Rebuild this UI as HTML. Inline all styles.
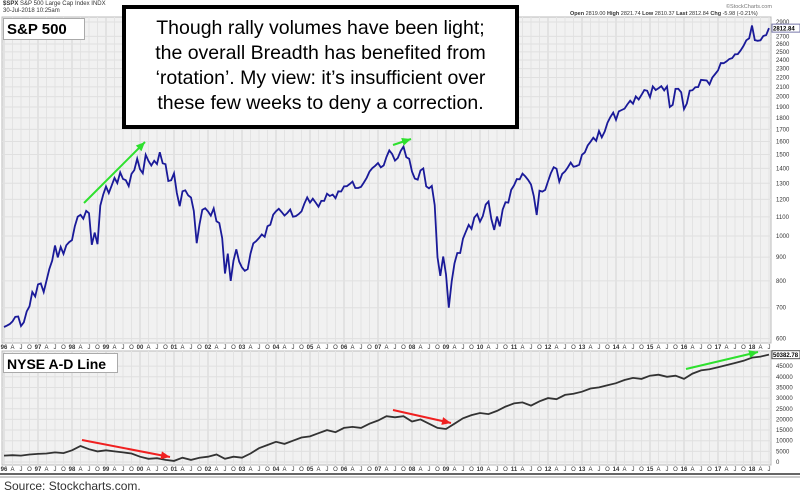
<!DOCTYPE html>
<html><head><meta charset="utf-8"><style>
body{margin:0;background:#fff;width:800px;height:492px;overflow:hidden;font-family:"Liberation Sans",sans-serif}
svg{position:absolute;left:0;top:0}
</style></head><body>
<svg id="c" width="800" height="492"></svg>
<script>
const years=[1996,1997,1998,1999,2000,2001,2002,2003,2004,2005,2006,2007,2008,2009,2010,2011,2012,2013,2014,2015,2016,2017,2018];
const spx=[636,640,645,654,669,670,639,651,687,705,757,740,
786,790,757,801,848,885,954,899,947,915,955,970,
980,1049,1101,1111,1090,1133,1120,957,1017,960,1163,1229,
1279,1238,1286,1335,1301,1372,1328,1320,1282,1362,1388,1469,
1394,1366,1498,1452,1420,1454,1430,1517,1436,1429,1315,1320,
1366,1240,1160,1249,1255,1224,1211,1133,965,1059,1139,1148,
1130,1106,1147,1076,1067,989,830,916,800,885,936,880,
855,841,848,916,964,975,990,1008,996,1050,1058,1112,
1131,1145,1126,1107,1121,1141,1101,1104,1115,1130,1174,1212,
1181,1204,1181,1157,1191,1191,1234,1220,1229,1207,1249,1248,
1280,1281,1295,1311,1270,1270,1277,1304,1336,1378,1401,1418,
1438,1407,1421,1482,1531,1503,1455,1474,1527,1560,1481,1468,
1378,1331,1323,1386,1400,1280,1267,1283,1166,900,820,903,
826,700,798,873,919,919,987,1021,1057,1036,1096,1115,
1074,1104,1169,1187,1089,1031,1102,1049,1141,1183,1181,1258,
1286,1327,1326,1364,1345,1321,1292,1219,1110,1253,1247,1258,
1312,1366,1408,1398,1310,1362,1379,1407,1441,1412,1416,1426,
1498,1515,1569,1598,1631,1606,1686,1633,1682,1757,1806,1848,
1783,1859,1872,1884,1924,1960,1931,2003,1972,2018,2068,2059,
1995,2105,2068,2086,2107,2063,2104,1900,1920,2079,2080,2044,
1880,1932,2060,2065,2097,2099,2174,2171,2168,2126,2199,2239,
2279,2364,2363,2384,2412,2423,2470,2472,2519,2575,2648,2674,
2850,2650,2641,2648,2705,2718,2813];
const adLine=[3,3.2,3,3.5, 3.8,4,4.5,4.2, 5.5,7.5,6,5, 5.5,5,4.5,4, 2.5,1.5,1.8,1, 0.5,2,1,2,
2.5,3.5,1.5,2.5, 2,4,6.5,8, 9.5,8.5,10,11.5, 12,13.5,15,14, 16,16.5,16,18, 19.5,21.5,21,21.5,
19,20,18,16, 15.5,18,20.5,22, 23,22.5,24,26, 27.5,28,26.5,28.5, 30,29.5,31.5,32, 33,34.5,35,36,
37,38.5,39.5,39, 40.5,41,40,40.5, 39,41.5,43,43.5, 44.5,45.5,46.5,47.5, 49,49.5,50.4];
const spxTicks=[600,700,800,900,1000,1100,1200,1300,1400,1500,1600,1700,1800,1900,2000,2100,2200,2300,2400,2500,2600,2700,2900];
const adTicks=[0,5000,10000,15000,20000,25000,30000,35000,40000,45000];
const NS="http://www.w3.org/2000/svg",svg=document.getElementById('c');
function mk(t,a,p){const e=document.createElementNS(NS,t);for(const k in a)e.setAttribute(k,a[k]);(p||svg).appendChild(e);return e;}
const X0=4,XR=771;
const xs=t=>X0+(t-1996)*34.0;
const ys=v=>236-201*Math.log(v/1000);
const ya=v=>462-v*0.00213;
let r=mk('rect',{x:2,y:17,width:XR-2,height:326,fill:'#f1f1f1',stroke:'#bbb'});

r=mk('rect',{x:2,y:351,width:XR-2,height:114,fill:'#f1f1f1',stroke:'#bbb'});

const ml=['A','J','O'];
for(let y=1996;y<=2018;y++){
 for(let q=0;q<4;q++){
  const x=xs(y+q/4);if(x>XR)continue;
  mk('line',{x1:x,x2:x,y1:17,y2:343,stroke:q?'#e3e3e3':'#d4d4d4'});
  mk('line',{x1:x,x2:x,y1:351,y2:465,stroke:q?'#e3e3e3':'#d4d4d4'});
  for(const ty of [349,471]){
   const t=mk('text',{x:x,y:ty,'font-size':6,'text-anchor':'middle',fill:'#333','font-weight':q?'normal':'bold'});
   t.textContent=q?ml[q-1]:String(y).slice(2);
   
  }
 }
}
spxTicks.forEach(v=>{const y=ys(v);mk('line',{x1:2,x2:XR,y1:y,y2:y,stroke:'#e0e0e0'});
 const t=mk('text',{x:776,y:y+2,'font-size':6,fill:'#333'});t.textContent=v;
 });
adTicks.forEach(v=>{const y=ya(v);mk('line',{x1:2,x2:XR,y1:y,y2:y,stroke:'#e0e0e0'});
 const t=mk('text',{x:776,y:y+2,'font-size':6,fill:'#333'});t.textContent=v;
 });
let d=spx.map((v,i)=>(i?'L':'M')+xs(1996+i/12).toFixed(1)+','+ys(v).toFixed(1)).join('');
let p=mk('path',{d:d,fill:'none',stroke:'#1a1a99','stroke-width':1.8});

d=adLine.map((v,i)=>(i?'L':'M')+xs(1996+i/4).toFixed(1)+','+ya(v*1000).toFixed(1)).join('');
p=mk('path',{d:d,fill:'none',stroke:'#333','stroke-width':1.8});

let g=mk('rect',{x:772,y:ys(2812.84)-4,width:28,height:8,fill:'#fff',stroke:'#77a'});

let t=mk('text',{x:773,y:ys(2812.84)+2.5,'font-size':6,'font-weight':'bold'});t.textContent='2812.84';

g=mk('rect',{x:772,y:ya(50382)-4,width:28,height:8,fill:'#fff',stroke:'#555'});

t=mk('text',{x:773,y:ya(50382)+2.5,'font-size':6,'font-weight':'bold'});t.textContent='50382.78';

function arrow(x1,y1,x2,y2,c,name){
 const gg=mk('g',{});
 mk('line',{x1,y1,x2,y2,stroke:c,'stroke-width':2},gg);
 const a=Math.atan2(y2-y1,x2-x1),L=9,W=4;
 const bx=x2-L*Math.cos(a),by=y2-L*Math.sin(a);
 mk('polygon',{points:`${x2},${y2} ${bx-W*Math.sin(a)},${by+W*Math.cos(a)} ${bx+W*Math.sin(a)},${by-W*Math.cos(a)}`,fill:c},gg);
}
arrow(84,203,145,142,'#2ee02e','green-arrow-1');
arrow(393,145,411,139,'#2ee02e','green-arrow-2');
arrow(82,440,170,457,'#f02020','red-arrow-1');
arrow(393,410,451,423,'#f02020','red-arrow-2');
arrow(686,369,758,352,'#2ee02e','green-arrow-3');
mk('line',{x1:0,x2:800,y1:474,y2:474,stroke:'#333','stroke-width':1.5});
mk('line',{x1:0,x2:800,y1:477,y2:477,stroke:'#999','stroke-width':1});
</script>
<div style="position:absolute;left:3px;top:1px;font-size:6px;line-height:7px;color:#333"><b>$SPX</b> S&amp;P 500 Large Cap Index INDX<br>30-Jul-2018 10:25am</div>
<div style="position:absolute;left:570px;top:11px;font-size:5.5px;color:#333;white-space:nowrap"><b>Open</b> 2819.00 <b>High</b> 2821.74 <b>Low</b> 2810.37 <b>Last</b> 2812.84 <b>Chg</b> -5.98 (-0.21%)</div>
<div style="position:absolute;left:726px;top:4px;font-size:5.5px;color:#777">©StockCharts.com</div>
<div style="position:absolute;left:3px;top:18px;width:82px;height:22px;background:#fff;border:1px solid #aaa;font-weight:bold;font-size:15px;line-height:22px;padding-left:3px;box-sizing:border-box">S&amp;P 500</div>
<div style="position:absolute;left:3px;top:353px;width:115px;height:20px;background:#fff;border:1px solid #aaa;font-weight:bold;font-size:14px;line-height:20px;padding-left:3px;box-sizing:border-box">NYSE A-D Line</div>
<div style="position:absolute;left:122px;top:5px;width:397px;height:124px;background:#fff;border:4px solid #000;box-sizing:border-box;font-size:19.5px;line-height:25px;text-align:center;padding-top:7px;color:#000">Though rally volumes have been light;<br>the overall Breadth has benefited from<br>‘rotation’. My view: it’s insufficient over<br>these few weeks to deny a correction.</div>
<div style="position:absolute;left:4px;top:479px;font-size:12px;color:#333">Source: Stockcharts.com.</div>
</body></html>
